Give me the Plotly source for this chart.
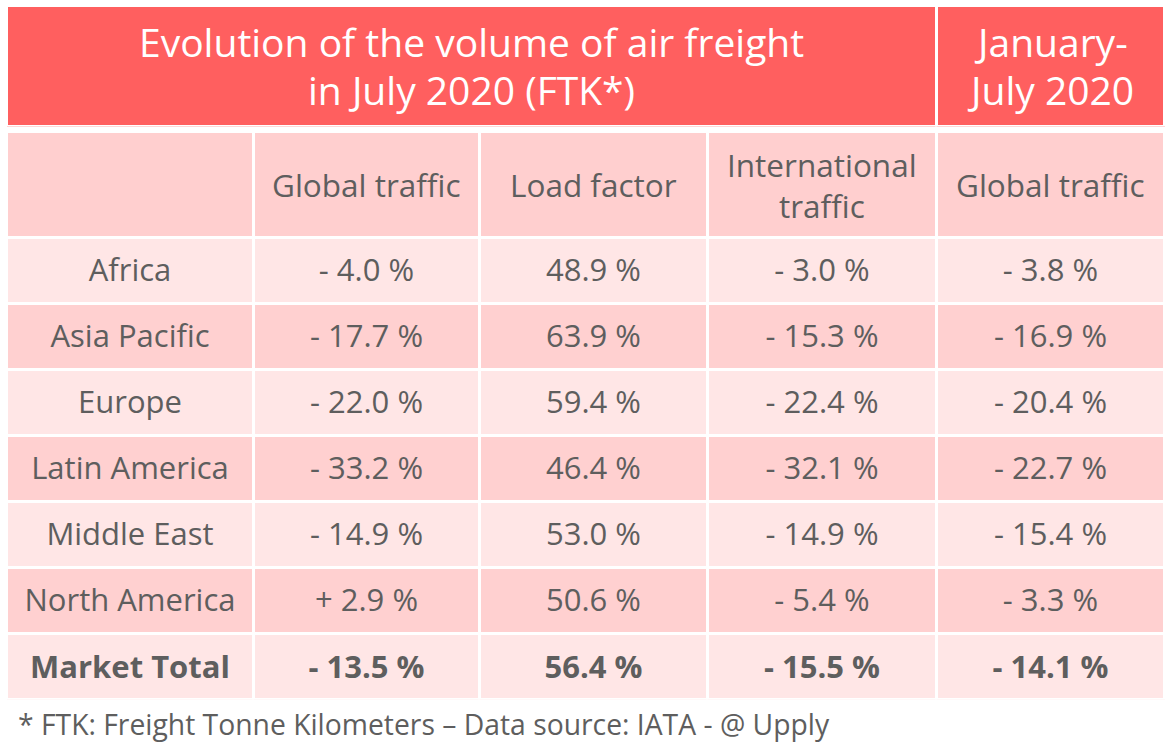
import plotly.graph_objects as go

title_lines = ["Evolution of the volume of air freight", "in July 2020 (FTK*)"]
side_lines = ["January-", "July 2020"]
col_headers = ["", "Global traffic", "Load factor", "International<br>traffic", "Global traffic"]
regions = ["Africa", "Asia Pacific", "Europe", "Latin America", "Middle East", "North America", "Market Total"]
global_traffic = [-4.0, -17.7, -22.0, -33.2, -14.9, 2.9, -13.5]
load_factor = [48.9, 63.9, 59.4, 46.4, 53.0, 50.6, 56.4]
intl_traffic = [-3.0, -15.3, -22.4, -32.1, -14.9, -5.4, -15.5]
ytd_global = [-3.8, -16.9, -20.4, -22.7, -15.4, -3.3, -14.1]
footnote = "* FTK: Freight Tonne Kilometers – Data source: IATA - @ Upply"

W, H = 1176, 752
RED = "#FF5F5F"
HEAD = "#FFCFCF"
LIGHT = "#FFE6E6"
DARK = "#FFD0D0"
TXT = "#5E5E5E"
FONT = "Open Sans"
CLEAR = "rgba(0,0,0,0)"


def signed(v):
    s = "+" if v > 0 else "-"
    return f"{s} {abs(v):.1f} %"


def plain(v):
    return f"{v:.1f} %"


text_cols = [
    list(regions),
    [signed(v) for v in global_traffic],
    [plain(v) for v in load_factor],
    [signed(v) for v in intl_traffic],
    [signed(v) for v in ytd_global],
]
body_cols = [c[:-1] for c in text_cols]            # regional rows
total_row = [f"<b>{c[-1]}</b>" for c in text_cols]  # bold market total row

n = len(regions)
row_fill = [LIGHT if i % 2 == 0 else DARK for i in range(n)]

x0, x1 = 6.5, 1164.5
colw = [247, 226, 228, 229, 228]
top0, top1 = 5.5, 126.5
tab0, tab1 = 131.5, 699.5
head_h, row_h = 106, 66
text_shift = 12
bold_shift = 3


def py(p):
    return 1 - p / H


fig = go.Figure()

# top banner cells
fig.add_trace(go.Table(
    domain=dict(x=[x0 / W, x1 / W], y=[py(top1), py(top0)]),
    columnwidth=[sum(colw[:4]), colw[4]],
    header=dict(values=["", ""], fill_color=RED,
                line=dict(color="white", width=3), height=top1 - top0),
    cells=dict(values=[[], []]),
))

# main table cells (fills)
fig.add_trace(go.Table(
    domain=dict(x=[x0 / W, x1 / W], y=[py(tab1), py(tab0)]),
    columnwidth=colw,
    header=dict(values=[""] * 5, fill_color=HEAD,
                line=dict(color="white", width=3), height=head_h),
    cells=dict(values=[[""] * n] * 5, fill_color=[row_fill] * 5,
               line=dict(color="white", width=3), height=row_h),
))

# regional rows text (transparent overlay, shifted for vertical centring)
fig.add_trace(go.Table(
    domain=dict(x=[x0 / W, x1 / W],
                y=[py(tab0 + text_shift + head_h + (n - 1) * row_h + 20), py(tab0 + text_shift)]),
    columnwidth=colw,
    header=dict(values=[""] * 5, fill_color=CLEAR,
                line=dict(color=CLEAR, width=0), height=head_h),
    cells=dict(values=body_cols, fill_color=CLEAR,
               line=dict(color=CLEAR, width=0),
               font=dict(family=FONT, size=31, color=TXT),
               align="center", height=row_h),
))

# market total text
total_top = tab0 + head_h + (n - 1) * row_h + bold_shift
fig.add_trace(go.Table(
    domain=dict(x=[x0 / W, x1 / W], y=[py(total_top + row_h), py(total_top)]),
    columnwidth=colw,
    header=dict(values=total_row, fill_color=CLEAR,
                line=dict(color=CLEAR, width=0),
                font=dict(family=FONT, size=31, color=TXT),
                align="center", height=row_h),
    cells=dict(values=[[]] * 5),
))

# header labels
edges = [x0]
for w in colw:
    edges.append(edges[-1] + w)
centers = [(edges[i] + edges[i + 1]) / 2 for i in range(5)]

title_cx = (x0 + edges[4]) / 2
side_cx = centers[4]
line_y = [41.5, 89.5]
for ly, t in zip(line_y, title_lines):
    fig.add_annotation(text=t, x=title_cx / W, y=py(ly), xref="paper", yref="paper",
                       xanchor="center", yanchor="middle", showarrow=False,
                       font=dict(family=FONT, size=39, color="white"))
for ly, t in zip(line_y, side_lines):
    fig.add_annotation(text=t, x=side_cx / W, y=py(ly), xref="paper", yref="paper",
                       xanchor="center", yanchor="middle", showarrow=False,
                       font=dict(family=FONT, size=39, color="white"))

head_mid = tab0 + head_h / 2
for cx, t in zip(centers, col_headers):
    if not t:
        continue
    fig.add_annotation(text=t, x=cx / W, y=py(head_mid), xref="paper", yref="paper",
                       xanchor="center", yanchor="middle", showarrow=False, align="center",
                       font=dict(family=FONT, size=31.5, color=TXT))

fig.add_annotation(
    text=footnote, xref="paper", yref="paper", x=16 / W, y=py(724),
    xanchor="left", yanchor="middle", showarrow=False,
    font=dict(family=FONT, size=28.3, color=TXT),
)

fig.update_layout(
    width=W, height=H, margin=dict(l=0, r=0, t=0, b=0),
    paper_bgcolor="white", plot_bgcolor="white",
)

fig.write_html("out.html", config={"displayModeBar": False},
               post_script="document.body.style.margin='0';")
